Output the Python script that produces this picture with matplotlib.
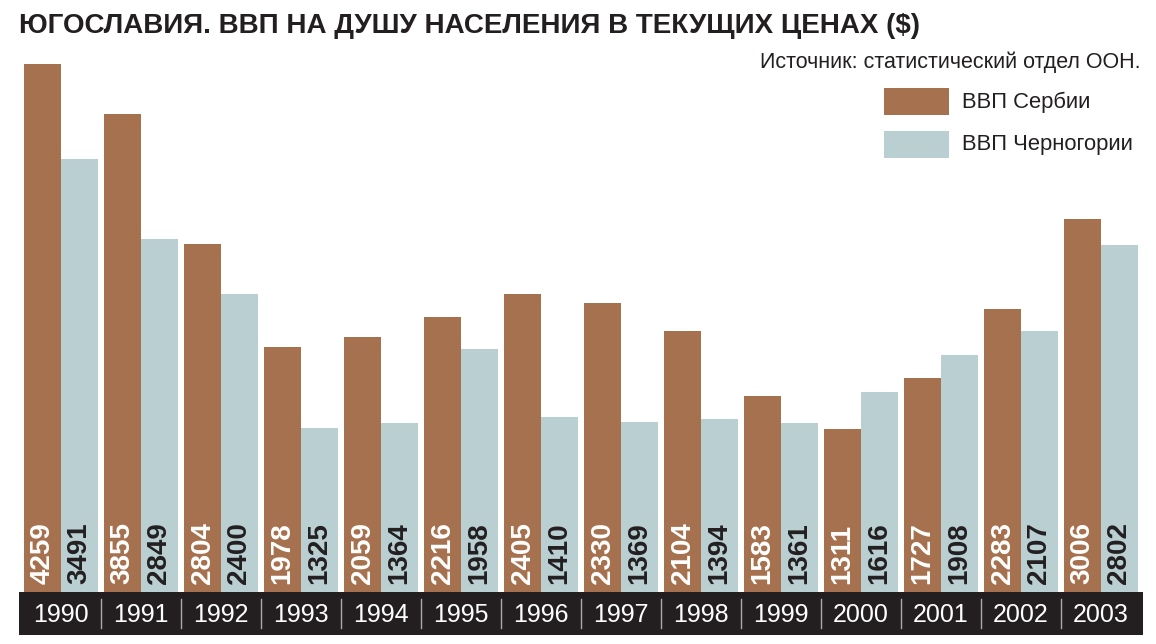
import matplotlib
matplotlib.use("Agg")
import matplotlib.pyplot as plt
from matplotlib.patches import Rectangle
import numpy as np

years = ["1990", "1991", "1992", "1993", "1994", "1995", "1996", "1997",
         "1998", "1999", "2000", "2001", "2002", "2003"]
serbia = [4259, 3855, 2804, 1978, 2059, 2216, 2405, 2330, 2104, 1583, 1311, 1727, 2283, 3006]
montenegro = [3491, 2849, 2400, 1325, 1364, 1958, 1410, 1369, 1394, 1361, 1616, 1908, 2107, 2802]

title = "ЮГОСЛАВИЯ. ВВП НА ДУШУ НАСЕЛЕНИЯ В ТЕКУЩИХ ЦЕНАХ ($)"
source = "Источник: статистический отдел ООН."
label_serbia = "ВВП Сербии"
label_montenegro = "ВВП Черногории"

BROWN = "#A5714E"
BLUE = "#B9CFD2"
DARK = "#231F20"

W, H = 1156, 644
fig = plt.figure(figsize=(W / 100, H / 100), dpi=100)
fig.patch.set_facecolor("white")

def fx(px):
    return px / W

def fy(py):
    return 1 - py / H

# main bar axes
left_px, right_px = 19, 1143
bottom_px, top_px = 592, 30
ax = fig.add_axes([fx(left_px), fy(bottom_px), fx(right_px - left_px), (bottom_px - top_px) / H])
x = np.arange(len(years))
bw = 0.46
ax.bar(x - bw / 2, serbia, width=bw, color=BROWN, linewidth=0)
ax.bar(x + bw / 2, montenegro, width=bw, color=BLUE, linewidth=0)
ax.set_xlim(-0.525, len(years) - 1 + 0.525)
ymax = (bottom_px - top_px) / (528 / 4259)
ax.set_ylim(0, ymax)
ax.axis("off")

for i in range(len(years)):
    ax.annotate(str(serbia[i]), xy=(x[i] - bw / 2, 0), xytext=(0, 6), textcoords="offset points",
                rotation=90, ha="center", va="bottom", color="white", fontsize=20,
                fontweight="bold", family=["Liberation Sans", "DejaVu Sans"])
    ax.annotate(str(montenegro[i]), xy=(x[i] + bw / 2, 0), xytext=(0, 6), textcoords="offset points",
                rotation=90, ha="center", va="bottom", color=DARK, fontsize=20,
                fontweight="bold", family=["Liberation Sans", "DejaVu Sans"])

# year band
band_top, band_bot = 592, 635
axb = fig.add_axes([fx(left_px), fy(band_bot), fx(right_px - left_px), (band_bot - band_top) / H])
axb.set_facecolor(DARK)
axb.set_xlim(ax.get_xlim())
axb.set_ylim(0, 1)
axb.set_xticks([])
axb.set_yticks([])
for s in axb.spines.values():
    s.set_visible(False)
for i, yr in enumerate(years):
    axb.text(i, 0.47, yr, color="white", ha="center", va="center", fontsize=18,
             family=["Liberation Sans", "DejaVu Sans"])
for i in range(len(years) - 1):
    axb.plot([i + 0.5, i + 0.5], [0.16, 0.84], color="#AAAAAA", lw=1.0)

# title
fig.text(fx(19), fy(26), title, ha="left", va="center", fontsize=20, fontweight="bold",
         color=DARK, family=["Liberation Sans Narrow", "Liberation Sans", "DejaVu Sans"])

# source
fig.text(fx(1141), fy(62), source, ha="right", va="center", fontsize=15.5, color=DARK,
         family=["Liberation Sans", "DejaVu Sans"])

# legend
fig.patches.append(Rectangle((fx(884), fy(115)), fx(65), 27 / H, transform=fig.transFigure,
                             facecolor=BROWN, edgecolor="none"))
fig.patches.append(Rectangle((fx(884), fy(158)), fx(65), 27 / H, transform=fig.transFigure,
                             facecolor=BLUE, edgecolor="none"))
fig.text(fx(962), fy(102), label_serbia, ha="left", va="center", fontsize=15.8, color=DARK,
         family=["Liberation Sans", "DejaVu Sans"])
fig.text(fx(962), fy(145), label_montenegro, ha="left", va="center", fontsize=15.8, color=DARK,
         family=["Liberation Sans", "DejaVu Sans"])

fig.savefig("out.png", dpi=100, facecolor="white")
